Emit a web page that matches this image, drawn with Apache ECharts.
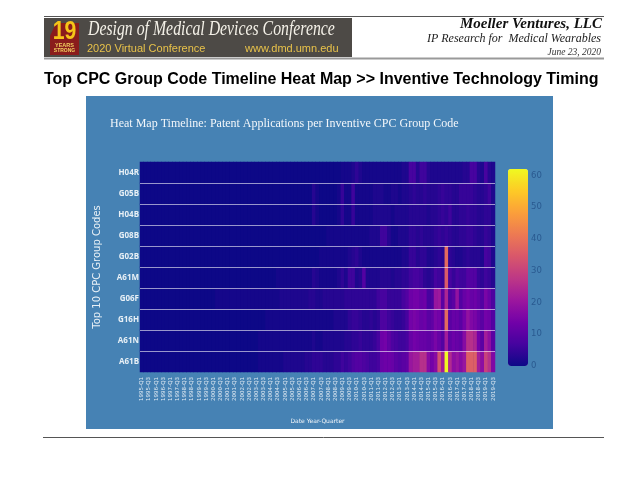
<!DOCTYPE html>
<html><head><meta charset="utf-8">
<style>html,body{margin:0;padding:0;background:#fff}#c{width:640px;height:480px}</style>
<script src="https://cdn.jsdelivr.net/npm/echarts@6/dist/echarts.min.js"></script>
</head><body><div id="c"></div>
<script>
const rowCodes = ['A61B','A61N','G16H','G06F','A61M','G02B','G08B','H04B','G05B','H04R'];
const colorStops = ['#0d0887','#46039f','#7201a8','#9c179e','#bd3786','#d8576b','#ed7953','#fb9f3a','#fdca26','#f0f921'];
const tickValues = [0,10,20,30,40,50,60];
const quarters = [];
for (let y = 1995; y <= 2019; y++) for (let q = 1; q <= 4; q++) if (!(y === 2019 && q === 4)) quarters.push(y + '-Q' + q);

const A61B = [0,0,0,0,0,0,0,0,0,0,0,0,0,0,0,0,0,0,0,0,0,0,0,0,0,0,0,0,0,0,0,0,0,1,1,1,1,1,1,1,2,2,2,2,2,2,3,3,4,4,4,3,3,3,4,4,6,5,6,8,9,9,8,7,6,6,7,12,13,13,12,10,9,10,11,20,22,22,26,26,17,14,17,33,22,62,25,18,20,17,20,36,36,36,22,18,30,26,16];
const A61N = [0,0,0,0,0,0,0,0,0,0,0,0,0,0,0,0,0,0,0,0,0,0,0,0,0,0,0,0,0,0,0,0,0,1,1,1,1,1,1,1,1,1,1,1,1,1,1,1,2,1,1,2,2,2,2,2,2,3,3,4,4,5,4,4,4,5,7,13,14,11,8,7,6,6,7,12,14,13,12,12,11,12,15,12,9,22,11,13,12,11,17,26,26,24,14,10,22,18,10];
const G16H = [0,0,0,0,0,0,0,0,0,0,0,0,0,0,0,0,0,0,0,0,0,0,0,0,0,0,0,0,0,0,0,0,0,0,0,1,1,1,1,1,1,1,1,1,1,1,1,1,1,1,1,1,1,1,2,2,2,2,4,5,5,4,3,3,4,3,4,8,8,6,5,4,4,5,7,14,15,14,12,13,10,11,15,14,9,38,10,12,12,10,14,19,16,15,12,10,14,13,9];
const G06F = [0,0,0,0,0,0,0,0,0,0,0,0,0,0,0,0,0,0,0,0,0,1,1,1,1,1,1,1,1,1,1,1,1,1,1,1,1,1,1,2,2,2,2,2,2,2,2,3,3,2,2,3,3,3,3,3,3,4,4,4,4,4,4,4,4,4,6,7,7,5,5,5,5,7,9,13,14,14,12,13,7,8,20,21,10,24,8,10,19,9,12,14,12,13,11,9,15,12,8];
const A61M = [0,0,0,0,0,0,0,0,0,0,0,0,0,0,0,0,0,0,0,0,0,0,0,0,0,0,0,0,0,0,0,0,0,0,0,0,0,0,1,1,1,1,1,1,1,1,1,1,3,2,1,1,1,1,1,2,4,2,6,6,2,3,9,2,2,2,2,3,3,3,2,3,3,4,4,6,7,7,6,4,3,4,7,6,5,35,7,5,7,6,6,9,9,9,5,4,6,5,3];
const G02B = [0,0,0,0,0,0,0,0,0,0,0,0,0,0,0,0,0,0,0,0,0,0,0,0,0,0,0,0,0,0,0,0,0,0,0,0,0,0,0,0,0,0,0,0,0,0,0,0,0,0,1,1,1,1,1,1,1,1,2,3,4,2,1,1,1,1,1,1,1,1,1,1,1,2,2,5,5,3,4,4,2,2,3,4,3,38,4,3,2,2,3,4,3,3,3,2,7,6,2];
const G08B = [0,0,0,0,0,0,0,0,0,0,0,0,0,0,0,0,0,0,0,0,0,0,0,0,0,0,0,0,0,0,0,0,0,0,0,0,0,0,0,0,0,0,0,0,0,0,0,0,0,0,0,0,1,1,1,1,1,1,1,1,1,1,1,1,2,2,2,6,6,3,1,1,2,2,2,4,4,3,4,3,3,3,4,5,4,5,4,3,3,4,4,5,5,4,3,3,5,4,2];
const H04B = [0,0,0,0,0,0,0,0,0,0,0,0,0,0,0,0,0,0,0,0,0,0,0,0,0,0,0,0,0,0,0,0,0,0,0,0,0,0,0,0,0,0,0,0,0,0,0,0,3,1,0,0,0,0,0,1,4,1,1,5,1,1,1,1,1,2,2,2,2,2,1,2,2,2,2,3,3,3,3,3,2,3,3,4,5,4,6,3,3,4,4,5,4,4,3,3,4,4,2];
const G05B = [0,0,0,0,0,0,0,0,0,0,0,0,0,0,0,0,0,0,0,0,0,0,0,0,0,0,0,0,0,0,0,0,0,0,0,0,0,0,0,0,0,0,0,0,0,0,0,0,3,1,0,0,0,0,0,1,5,1,1,6,1,1,1,1,1,2,2,2,1,1,2,2,1,2,2,3,4,3,3,4,3,3,3,4,5,4,4,3,3,5,5,5,5,4,3,3,4,6,2];
const H04R = [0,0,0,0,0,0,0,0,0,0,0,0,0,0,0,0,0,0,0,0,0,0,0,0,0,0,0,0,0,0,0,0,0,0,0,0,0,0,0,0,0,0,0,0,0,0,0,0,0,0,0,0,0,0,0,0,1,1,1,2,4,2,1,1,1,1,1,1,1,1,1,1,1,2,2,7,7,3,6,6,3,2,2,2,2,2,2,2,2,2,3,3,7,7,3,2,7,3,2];
const rowsData = [A61B,A61N,G16H,G06F,A61M,G02B,G08B,H04B,G05B,H04R];

const heat = [];
rowsData.forEach((r, y) => r.forEach((v, x) => heat.push([x, y, v])));

const chart = echarts.init(document.getElementById('c'), null, {renderer: 'canvas'});
chart.setOption({
  animation: false,
  backgroundColor: '#ffffff',
  title: [{
    text: 'Heat Map Timeline: Patent Applications per Inventive CPC Group Code',
    left: 110, top: 118, padding: 0,
    textStyle: {color: '#f2f6fa', fontFamily: 'Liberation Serif', fontSize: 12, fontWeight: 'normal'}
  }],
  grid: [
    {left: 140, top: 162, width: 355, height: 210, show: true, backgroundColor: '#0d0887', borderWidth: 0},
    {left: 508, top: 169, width: 20, height: 197}
  ],
  xAxis: [{
    type: 'category', gridIndex: 0, data: quarters,
    axisLine: {show: false}, axisTick: {show: false}, splitLine: {show: false},
    axisLabel: {interval: 1, rotate: 90, color: '#dfe9f2', fontSize: 5.5, margin: 5, fontFamily: 'DejaVu Sans'},
    name: 'Date Year-Quarter', nameLocation: 'middle', nameGap: 46,
    nameTextStyle: {color: '#eef3f8', fontSize: 6, fontFamily: 'DejaVu Sans'}
  }, {
    type: 'category', gridIndex: 1, data: [''], show: false
  }],
  yAxis: [{
    type: 'category', gridIndex: 0, data: rowCodes, z: 5,
    axisLine: {show: false}, axisTick: {show: false},
    splitLine: {show: true, showMinLine: false, showMaxLine: false, lineStyle: {color: 'rgba(255,255,255,0.58)', width: 1}},
    axisLabel: {color: '#e8f0f6', fontSize: 8, margin: 1, fontWeight: 'bold', fontFamily: 'Open Sans'},
    name: 'Top 10 CPC Group Codes', nameLocation: 'middle', nameGap: 38,
    nameTextStyle: {color: '#e8f0f6', fontSize: 10, fontFamily: 'DejaVu Sans'}
  }, {
    type: 'value', gridIndex: 1, position: 'right', min: 0, max: 62, interval: 10,
    axisLine: {show: false}, axisTick: {show: false}, splitLine: {show: false},
    axisLabel: {color: '#2a5a90', fontSize: 8.5, margin: 3, fontFamily: 'DejaVu Sans',
      formatter: v => tickValues.includes(v) ? String(v) : ''}
  }],
  visualMap: {
    type: 'continuous', min: 0, max: 62, seriesIndex: 0, calculable: false,
    left: 508, top: 169, itemWidth: 20, itemHeight: 197, padding: 0,
    showLabel: false, text: ['', ''], inRange: {color: colorStops}
  },
  graphic: [
    {type: 'rect', z: -10, shape: {x: 86, y: 96, width: 467, height: 333}, style: {fill: '#4682b4'}},
    {type: 'line', shape: {x1: 44, y1: 16.5, x2: 604, y2: 16.5}, style: {stroke: '#555', lineWidth: 1}},
    {type: 'line', shape: {x1: 44, y1: 58.5, x2: 604, y2: 58.5}, style: {stroke: '#999', lineWidth: 2}},
    {type: 'line', shape: {x1: 43, y1: 437.5, x2: 604, y2: 437.5}, style: {stroke: '#555', lineWidth: 1}},
    {type: 'rect', shape: {x: 44, y: 18, width: 308, height: 39}, style: {fill: '#4d4a46'}},
    {type: 'polygon', shape: {points: [[50,55],[50,36],[56,23],[79,23],[79,55]]}, style: {fill: '#8a1c1c'}},
    {type: 'text', x: 64.5, y: 20, scaleX: 0.85, style: {x: 0, y: 0, text: '19', fill: '#f5c518', font: 'bold 25px "Liberation Sans"', align: 'center'}},
    {type: 'text', style: {x: 64.5, y: 42, text: 'YEARS', fill: '#f2d060', font: 'bold 5.5px "Liberation Sans"', align: 'center'}},
    {type: 'text', style: {x: 64.5, y: 48, text: 'STRONG', fill: '#f2d060', font: 'bold 5px "Liberation Sans"', align: 'center'}},
    {type: 'text', x: 88, y: 20, scaleX: 0.79, style: {x: 0, y: 0, text: 'Design of Medical Devices Conference', fill: '#f4f1e8', font: 'italic 20px "Liberation Serif"'}},
    {type: 'text', style: {x: 87, y: 43, text: '2020 Virtual Conference', fill: '#e8c24a', font: '11px "Liberation Sans"'}},
    {type: 'text', style: {x: 245, y: 43, text: 'www.dmd.umn.edu', fill: '#e8c24a', font: '11px "Liberation Sans"'}},
    {type: 'text', style: {x: 602, y: 17, text: 'Moeller Ventures, LLC', fill: '#111', font: 'italic bold 15px "Liberation Serif"', align: 'right'}},
    {type: 'text', style: {x: 601, y: 33, text: 'IP Research for  Medical Wearables', fill: '#222', font: 'italic 12px "Liberation Serif"', align: 'right'}},
    {type: 'text', style: {x: 601, y: 47, text: 'June 23, 2020', fill: '#333', font: 'italic 9.5px "Liberation Serif"', align: 'right'}},
    {type: 'text', style: {x: 44, y: 72, text: 'Top CPC Group Code Timeline Heat Map >> Inventive Technology Timing', fill: '#000', font: 'bold 16px "Liberation Sans"'}}
  ],
  series: [{
    type: 'heatmap', xAxisIndex: 0, yAxisIndex: 0, data: heat, progressive: 0,
    emphasis: {disabled: true}
  }]
});
</script></body></html>
